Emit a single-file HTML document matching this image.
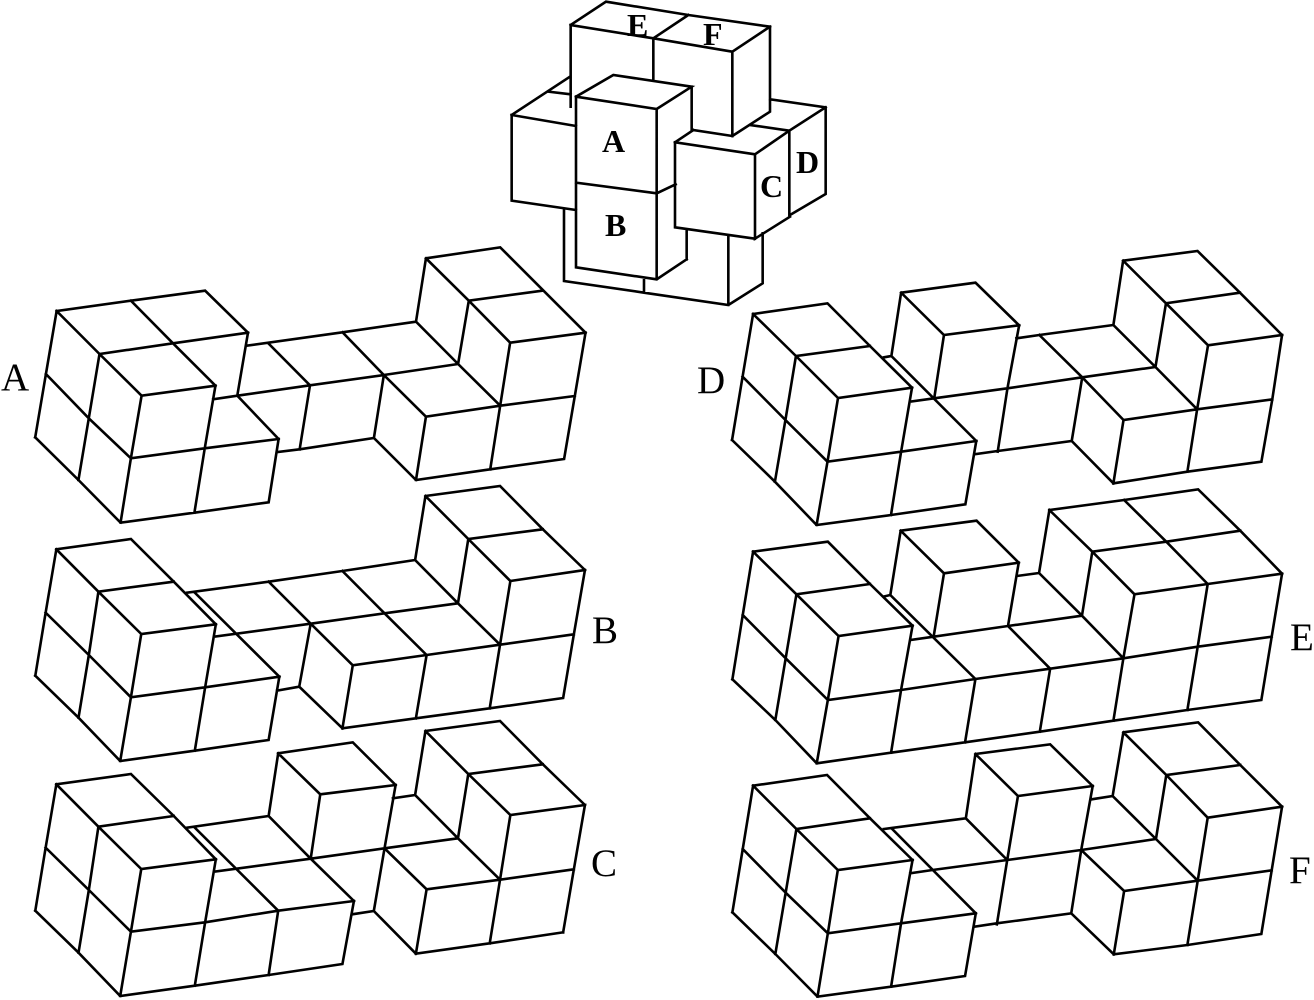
<!DOCTYPE html>
<html><head><meta charset="utf-8"><style>
html,body{margin:0;padding:0;background:#fff;width:1314px;height:1000px;overflow:hidden}
svg{display:block}
path{fill:none;stroke:#000;stroke-width:2.6;stroke-linejoin:miter;stroke-linecap:square;vector-effect:non-scaling-stroke}
text{font-family:"Liberation Serif",serif;fill:#000}
.r{font-size:39px}
.b{font-size:32px;font-weight:bold}
</style></head><body>
<svg width="1314" height="1000" viewBox="0 0 1314 1000" xmlns="http://www.w3.org/2000/svg">
<g transform="translate(500,0) scale(.33333,.33333)">
<path d="M212 75L318 5L565 45L810 80M212 75L460 115L697 155M460 115L565 45M697 155L810 80M212 75L212 320M460 115L460 240M697 155L697 408M810 80L810 335L697 408M810 298L977 322L977 582L870 645M977 322L868 392M750 375L868 392M868 392L765 463M868 392L868 645M580 390L697 408M580 390L525 427M525 427L765 463M525 427L525 682L765 716M765 463L765 716L870 650M470 580L527 553M228 290L340 225L575 260L470 327L228 290M228 290L228 802L470 838L560 778M470 327L470 838M575 260L575 392M228 548L470 580M560 690L560 778M35 345L207 232M145 275L212 283M35 345L228 378M35 345L35 602L228 630M192 630L192 843L432 878L685 915L788 850L788 700M432 838L432 878M685 705L685 915"/>
</g>
<g transform="translate(0,240) scale(.3827,.33333)">
<path d="M148 213L342 182L536 152L648 278M148 213L260 342L370 467M342 182L452 310L563 437M260 342L452 310L648 278M370 467L563 437M648 278L620 467M148 213L120 402L92 592M260 342L232 535L205 720M370 467L342 655L315 848M563 437L535 625L508 818M120 402L232 535L342 655M92 592L205 720L315 848L508 818L702 787L728 597M342 655L535 625L728 597M620 467L728 597M557 478L620 467L810 436L1003 405L1197 372M645 317L895 277L1087 245M703 312L810 436M895 277L1003 405L1113 530M810 436L783 628M1003 405L977 594M725 636L783 628L977 594L1087 720L1281 688L1474 657L1502 468L1530 278M1113 530L1087 720M1113 530L1307 497L1502 468M1307 497L1281 688M1307 497L1333 308L1530 278M1087 245L1113 55L1307 22L1530 278M1113 55L1225 182L1333 308M1225 182L1417 152M1225 182L1197 372M1087 245L1197 372L1307 497"/>
</g>
<g transform="translate(20,480) scale(.3825,.33333)">
<path d="M95 208L290 177L402 305L512 433M95 208L205 335L317 462M205 335L402 305M317 462L512 433M95 208L67 398L40 587M205 335L180 525L153 713M317 462L290 652L262 843M512 433L484 622L457 812M67 398L180 525L290 652M40 587L153 713L262 843L457 812L650 780L678 590M290 652L484 622L678 590M457 338L678 590M437 338L650 305L843 273L1033 240M508 470L760 431L953 400L1145 370M650 305L760 431L870 556M843 273L953 400L1063 525M760 431L730 620M672 632L730 620L843 745M870 556L843 745M870 556L1063 525L1255 494L1448 463M1063 525L1035 715M1255 494L1228 685M843 745L1035 715L1228 685L1420 654L1448 463L1477 270M1033 240L1060 48L1255 18L1367 148L1477 270M1060 48L1172 177L1282 303M1172 177L1367 148M1172 177L1145 370M1033 240L1145 370L1255 494L1282 303L1477 270"/>
</g>
<g transform="translate(20,715) scale(.3825,.33333)">
<path d="M95 208L290 177L402 303L512 433M95 208L205 335L317 462M205 335L402 303M317 462L512 433M95 208L67 398L40 587M205 335L180 525L153 713M317 462L290 650L262 843M512 433L484 622L457 812M67 398L180 525L290 650M40 587L153 713L262 843L457 812L650 780L843 747L873 558M290 650L484 622L675 587L873 558M457 338L675 587M437 338L650 303M508 470L760 431L953 400L1145 370M650 303L760 431L873 558M675 587L650 780M675 115L870 82L982 210M675 115L785 238L982 210M675 115L650 303M785 238L760 431M982 210L953 400L925 588M868 598L925 588L1035 716M975 250L1033 240L1060 48L1255 18L1367 148L1477 270M1060 48L1172 177L1282 300M1172 177L1367 148M1172 177L1145 370M1033 240L1145 370L1255 494M1282 300L1477 270L1448 463L1420 652M953 400L1063 523L1255 494L1448 463M1063 523L1035 716M1255 494L1282 300M1255 494L1228 685M1035 716L1228 685L1420 652"/>
</g>
<g transform="translate(690,240) scale(.3895,.33333)">
<path d="M162 222L353 190L462 318L570 443M162 222L272 348L380 474M272 348L462 318M380 474L570 443M162 222L135 410L108 600M272 348L245 540L218 725M380 474L353 665L325 855M570 443L542 635L516 825M135 410L245 540L353 665M108 600L218 725L325 855L516 825L707 793L735 603M353 665L542 635L735 603M517 348L735 603M498 352L517 348L542 158L733 128L845 256M542 158L652 285L845 256M652 285L627 475M845 256L815 445L790 635M565 485L627 475L815 445L1007 412L1195 381M838 295L897 285L1087 255M897 285L1007 412L1113 540M1007 412L980 603M730 643L790 633L980 603L1087 730M1113 540L1087 730M1113 540L1302 508L1495 478M1302 508L1277 695M1087 730L1277 695L1467 665L1495 478L1520 285M1087 255L1112 62L1303 33L1412 158L1520 285M1112 62L1222 190L1330 316M1222 190L1412 158M1222 190L1195 381M1087 255L1195 381L1302 508L1330 316L1520 285"/>
</g>
<g transform="translate(714,480) scale(.3833,.33333)">
<path d="M102 215L297 185L407 312L518 437M102 215L215 343L325 468M215 343L407 312M325 468L518 437M102 215L75 405L48 598M215 343L187 535L160 720M325 468L297 660L268 850M518 437L488 630L462 818M75 405L187 535L297 660M48 598L160 720L268 850L462 818L655 787L850 755L1042 722L1235 690L1428 660L1455 470L1482 281M297 660L488 630L682 597L877 566L1068 535L1262 500L1455 470M460 345L682 597M445 349L460 345L487 152L685 122L795 248M487 152L600 280L795 248M600 280L573 470M795 248L767 438M512 480L573 470L767 438L960 407M767 438L877 566M790 288L848 279L875 90M848 279L960 407L1068 535M960 407L987 215M875 90L1070 60L1263 28L1373 152L1482 281M875 90L987 215L1097 343M987 215L1180 185L1373 152M1070 60L1180 185L1288 312M1097 343L1288 312L1482 281M1097 343L1068 535L1042 722M1288 312L1262 500L1235 690M682 597L655 787M877 566L850 755"/>
</g>
<g transform="translate(714,715) scale(.3833,.33333)">
<path d="M102 212L295 180L407 310L518 435M102 212L215 342L323 465M215 342L407 310M323 465L518 435M102 212L75 402L48 592M215 342L187 533L160 717M323 465L297 655L270 845M518 435L488 625L462 815M75 402L187 533L297 655M48 592L160 717L270 845L462 815L655 783L683 595M297 655L488 625L683 595M465 342L683 595M443 342L657 310M512 475L570 465L765 435L958 405L1153 372M657 310L765 435M657 310L682 117L877 88L988 213M682 117L793 243L988 213M793 243L765 435L738 628M988 213L958 405L932 595M680 635L738 625L932 595L1043 718M985 253L1040 243L1068 52L1263 22L1373 150L1482 275M1068 52L1180 180L1288 308M1180 180L1373 150M1180 180L1153 372M1040 243L1153 372L1262 497M958 405L1070 528L1262 497L1455 466M1070 528L1043 718M1262 497L1288 308L1482 275M1262 497L1235 690M1043 718L1235 690L1428 657L1455 466L1482 275"/>
</g>
<text class="r" x="1" y="390">A</text>
<text class="r" x="592" y="643">B</text>
<text class="r" x="591" y="876">C</text>
<text class="r" x="697" y="393">D</text>
<text class="r" x="1290" y="650">E</text>
<text class="r" x="1289" y="883">F</text>
<text class="b" x="602" y="152">A</text>
<text class="b" x="605" y="236">B</text>
<text class="b" x="760" y="197">C</text>
<text class="b" x="796" y="173">D</text>
<text class="b" x="627" y="36">E</text>
<text class="b" x="703" y="45">F</text>
</svg>
</body></html>
